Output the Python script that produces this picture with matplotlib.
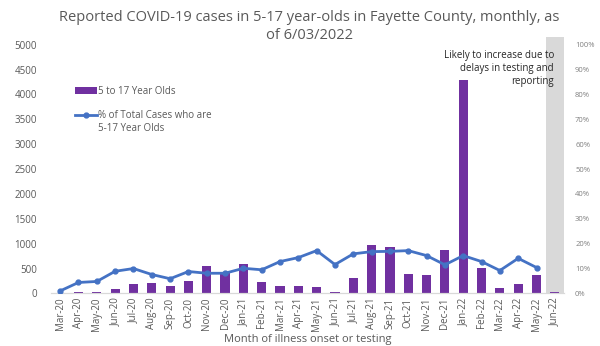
import numpy as np
import matplotlib.pyplot as plt
from matplotlib.patches import Rectangle
from matplotlib.ticker import PercentFormatter

months = ['Mar-20', 'Apr-20', 'May-20', 'Jun-20', 'Jul-20', 'Aug-20', 'Sep-20',
          'Oct-20', 'Nov-20', 'Dec-20', 'Jan-21', 'Feb-21', 'Mar-21', 'Apr-21',
          'May-21', 'Jun-21', 'Jul-21', 'Aug-21', 'Sep-21', 'Oct-21', 'Nov-21',
          'Dec-21', 'Jan-22', 'Feb-22', 'Mar-22', 'Apr-22', 'May-22', 'Jun-22']

# cases among 5-17 year olds
cases = [10, 25, 25, 95, 190, 210, 150, 250, 550, 430, 590, 230, 150, 150,
         120, 30, 300, 980, 940, 400, 360, 880, 4280, 520, 105, 180, 380, 30]

# % of total cases who are 5-17 (last month not plotted)
pct = [1.0, 4.4, 4.8, 8.9, 10.0, 7.6, 5.9, 8.8, 8.1, 8.1, 10.1, 9.5, 12.8, 14.4,
       17.2, 11.6, 15.9, 16.8, 16.9, 17.2, 15.2, 11.5, 15.2, 12.8, 9.2, 14.1, 10.4]

purple = '#7030A0'
blue = '#4472C4'
grey_txt = '#595959'

plt.rcParams['font.family'] = ['Open Sans', 'DejaVu Sans']

fig = plt.figure(figsize=(6, 3.46), dpi=100)
ax = fig.add_axes([0.085, 0.152, 0.855, 0.719])
ax2 = ax.twinx()

x = np.arange(len(months))

# shaded "incomplete" month
ax.add_patch(Rectangle((len(months) - 1.5, 0), 1, 1.03, transform=ax.get_xaxis_transform(),
                       facecolor='#D9D9D9', edgecolor='none', clip_on=False, zorder=0))

bars = ax.bar(x, cases, width=0.5, color=purple, zorder=2, label='5 to 17 Year Olds')
line, = ax2.plot(x[:len(pct)], np.array(pct) / 100, color=blue, lw=2, marker='o',
                 markersize=3.5, zorder=3, label='% of Total Cases who are')

ax.set_xlim(-0.5, len(months) - 0.5)
ax.set_ylim(0, 5000)
ax.set_yticks(range(0, 5001, 500))
ax2.set_ylim(0, 1)
ax2.set_yticks(np.arange(0, 1.01, 0.1))
ax2.yaxis.set_major_formatter(PercentFormatter(1.0, decimals=0))

ax.set_xticks(x)
ax.set_xticklabels(months, rotation=90, fontsize=7, color=grey_txt)
ax.tick_params(axis='y', labelsize=7, colors=grey_txt, length=0, pad=10)
ax.tick_params(axis='x', length=0, pad=3)
ax2.tick_params(axis='y', labelsize=5.5, colors='#808080', length=0, pad=8)

for a in (ax, ax2):
    for s in ['top', 'left', 'right']:
        a.spines[s].set_visible(False)
    a.spines['bottom'].set_color('#D9D9D9')

# axis title sits mostly outside the figure, as in the original
ax.set_ylabel('Number of cases among 5-17 year olds', fontsize=8, color='#A6A6A6', labelpad=41)
ax.set_xlabel('Month of illness onset or testing', fontsize=8, color=grey_txt, labelpad=2)

fig.suptitle('Reported COVID-19 cases in 5-17 year-olds in Fayette County, monthly, as\nof 6/03/2022',
             fontsize=10.5, color=grey_txt, y=0.97, x=0.515, linespacing=1.25)

ax.text(len(months) - 1.05, 4900, 'Likely to increase due to\ndelays in testing and\nreporting',
        ha='right', va='top', fontsize=7, color='#262626', linespacing=1.3)

ax.legend([bars, line], [bars.get_label(), line.get_label()], loc='upper left',
          bbox_to_anchor=(0.03, 0.87), frameon=False, fontsize=7, labelcolor=grey_txt,
          handlelength=2.2, labelspacing=1.4, handletextpad=0.2)
# second line of the line-series legend label, hanging below the marker row
fig.text(0.1635, 0.63, '5-17 Year Olds', fontsize=7, color=grey_txt, va='center')

plt.savefig('out.png', dpi=100)
